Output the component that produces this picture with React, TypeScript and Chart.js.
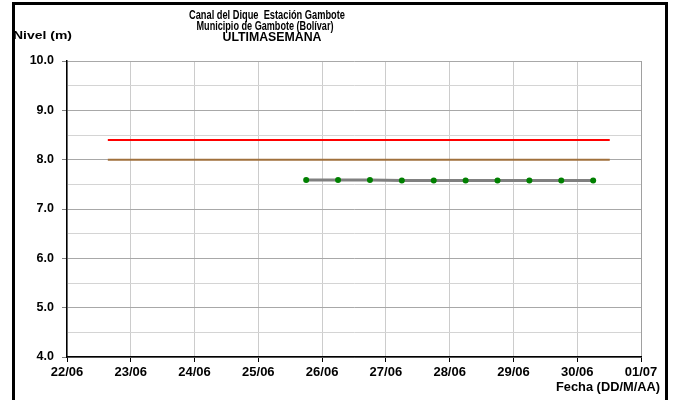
import React, { useEffect, useRef } from "react";
import { Chart, registerables } from "chart.js";

Chart.register(...registerables);

// Days since 22/06 00:00
const xTickLabels = ["22/06", "23/06", "24/06", "25/06", "26/06", "27/06", "28/06", "29/06", "30/06", "01/07"];
const levelDays = [3.75, 4.25, 4.75, 5.25, 5.75, 6.25, 6.75, 7.25, 7.75, 8.25];
const levelValues = [7.59, 7.59, 7.59, 7.58, 7.58, 7.58, 7.58, 7.58, 7.58, 7.58];
const thresholdDays = [0.64, 8.51];
const redAlertValues = [8.4, 8.4];
const orangeAlertValues = [8.0, 8.0];
const titleLines = ["Canal del Dique  Estación Gambote", "Municipio de Gambote (Bolívar)", "ULTIMASEMANA"];
const yAxisTitle = "Nivel (m)";
const xAxisTitle = "Fecha (DD/M/AA)";

const FONT = '"Liberation Sans", Arial, sans-serif';

function drawFit(ctx: CanvasRenderingContext2D, text: string, x: number, y: number, font: string, w: number, align: string) {
  ctx.save();
  ctx.font = font;
  ctx.fillStyle = "#000";
  ctx.textBaseline = "middle";
  ctx.textAlign = "left";
  const m = ctx.measureText(text).width;
  const s = w / m;
  const left = align === "center" ? x - w / 2 : align === "right" ? x - w : x;
  ctx.translate(left, y);
  ctx.scale(s, 1);
  ctx.fillText(text, 0, 0);
  ctx.restore();
}

const decorPlugin = {
  id: "decor",
  afterDraw(chart: any) {
    const ctx = chart.ctx as CanvasRenderingContext2D;
    ctx.save();
    ctx.strokeStyle = "#000";
    ctx.lineWidth = 3;
    ctx.strokeRect(13.5, 3.5, 653, 420);
    ctx.restore();
    const tf = `bold 12px ${FONT}`;
    drawFit(ctx, titleLines[0], 267, 15.5, tf, 156, "center");
    drawFit(ctx, titleLines[1], 265, 27, tf, 137, "center");
    drawFit(ctx, titleLines[2], 272, 38, tf, 99, "center");
    drawFit(ctx, yAxisTitle, 13, 36, `bold 11px ${FONT}`, 59, "left");
    drawFit(ctx, xAxisTitle, 660, 388, `bold 12px ${FONT}`, 104, "right");
  },
};

export default function App() {
  const ref = useRef<HTMLCanvasElement>(null);
  useEffect(() => {
    document.body.style.margin = "0";
    const canvas = ref.current!;
    const chart = new Chart(canvas, {
      type: "line",
      data: {
        datasets: [
          {
            label: "Nivel",
            data: levelDays.map((d, i) => ({ x: d, y: levelValues[i] })),
            borderColor: "#808080",
            borderWidth: 3,
            pointRadius: 3,
            pointBackgroundColor: "#008000",
            pointBorderColor: "#008000",
            pointBorderWidth: 0,
            tension: 0,
          },
          {
            label: "Alerta roja",
            data: thresholdDays.map((d, i) => ({ x: d, y: redAlertValues[i] })),
            borderColor: "#ff0000",
            borderWidth: 2,
            pointRadius: 0,
          },
          {
            label: "Alerta naranja",
            data: thresholdDays.map((d, i) => ({ x: d, y: orangeAlertValues[i] })),
            borderColor: "#a0703c",
            borderWidth: 2,
            pointRadius: 0,
          },
        ],
      },
      options: {
        animation: false,
        responsive: false,
        devicePixelRatio: 1,
        layout: { padding: { top: 61, right: 33, left: 0, bottom: 0 } },
        plugins: { legend: { display: false }, tooltip: { enabled: false }, title: { display: false } },
        scales: {
          x: {
            type: "linear",
            min: 0,
            max: 9,
            afterFit: (s: any) => {
              s.height = 43;
            },
            ticks: {
              stepSize: 1,
              color: "#000",
              padding: 3,
              maxRotation: 0,
              font: { family: FONT, size: 13, weight: "bold" },
              callback: (v: any) => xTickLabels[Math.round(Number(v))] ?? "",
            },
            grid: {
              color: (c: any) => (c.tick && c.tick.value === 9 ? "#a0a0a0" : "#cccccc"),
              tickColor: "#000",
              tickLength: 5,
              lineWidth: 1,
            },
            border: { color: "#000", width: 1.5 },
          },
          y: {
            type: "linear",
            min: 4,
            max: 10,
            afterFit: (s: any) => {
              s.width = 67;
            },
            ticks: {
              stepSize: 0.5,
              color: "#000",
              padding: 8,
              font: { family: FONT, size: 12.5, weight: "bold" },
              callback: (v: any) => (Number(v) % 1 === 0 ? Number(v).toFixed(1) : ""),
            },
            grid: {
              color: (c: any) => (c.tick && c.tick.value % 1 === 0 ? "#a8a8a8" : "#d4d4d4"),
              tickColor: (c: any) => (c.tick && c.tick.value % 1 === 0 ? "#808080" : "rgba(0,0,0,0)"),
              tickLength: 5,
              lineWidth: 1,
            },
            border: { color: "#000", width: 1.5 },
          },
        },
      },
      plugins: [decorPlugin],
    });
    return () => chart.destroy();
  }, []);
  return <canvas ref={ref} width={674} height={400} style={{ display: "block" }} />;
}
